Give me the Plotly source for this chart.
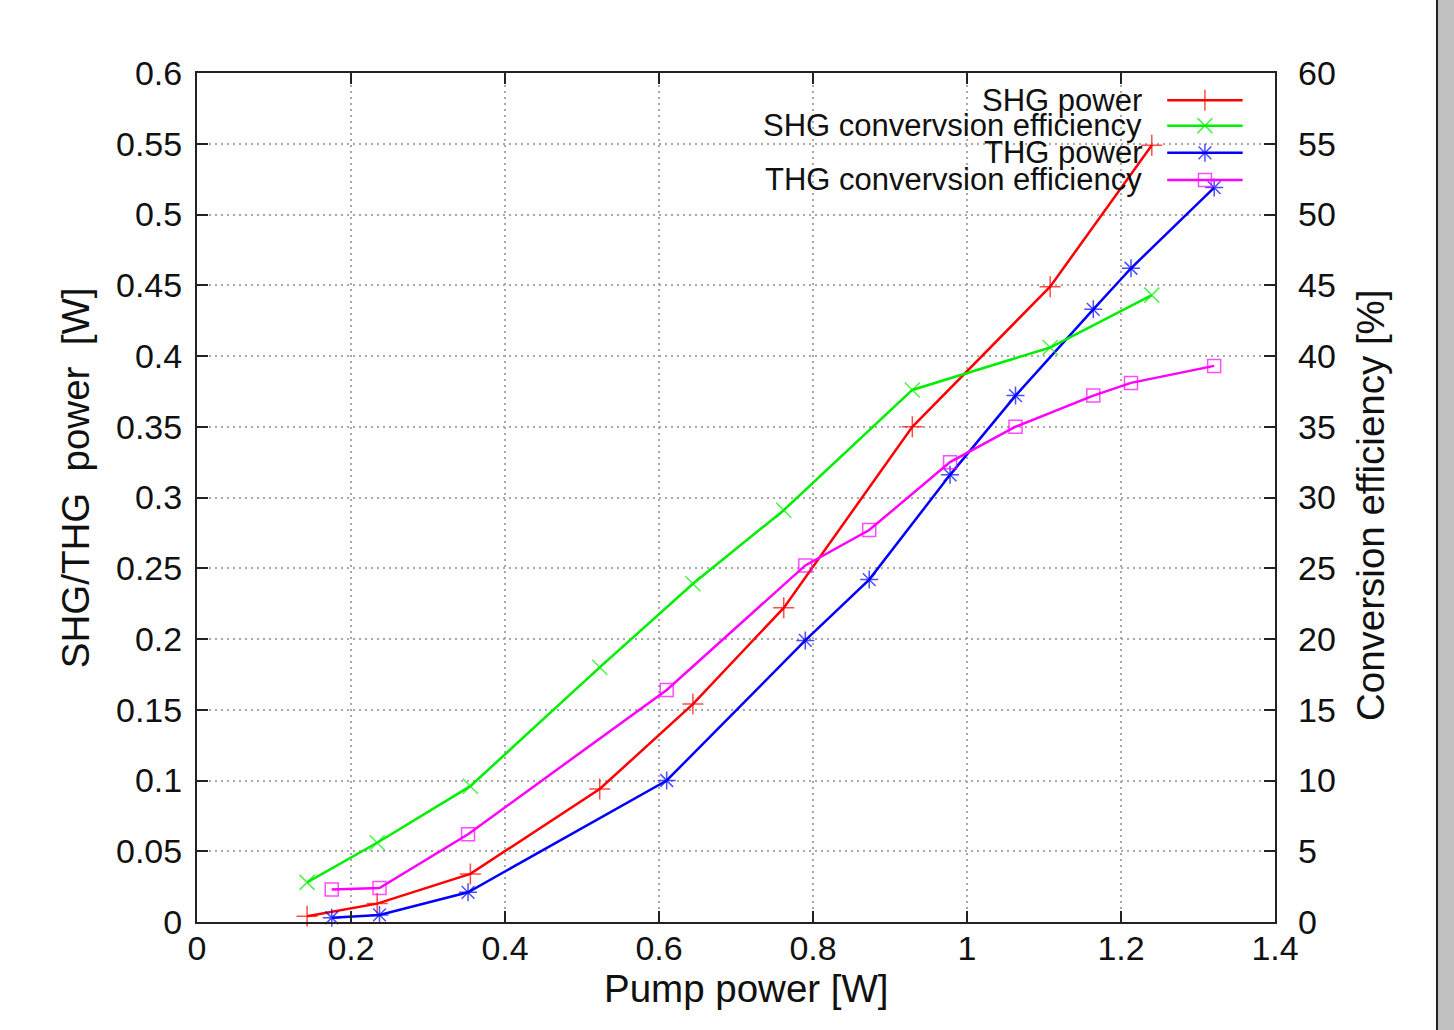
import plotly.graph_objects as go

# ---- data ----
shg_x = [0.143, 0.234, 0.355, 0.523, 0.644, 0.762, 0.929, 1.108, 1.240]
shg_power = [0.004, 0.013, 0.034, 0.094, 0.154, 0.222, 0.350, 0.449, 0.549]
shg_eff = [2.8, 5.6, 9.6, 18.0, 23.9, 29.1, 37.6, 40.6, 44.3]

thg_x = [0.175, 0.237, 0.352, 0.610, 0.790, 0.873, 0.978, 1.063, 1.164, 1.213, 1.321]
thg_power = [0.003, 0.005, 0.021, 0.100, 0.199, 0.242, 0.316, 0.372, 0.433, 0.462, 0.519]
thg_eff = [2.3, 2.4, 6.2, 16.4, 25.2, 27.7, 32.5, 35.0, 37.2, 38.1, 39.3]

names = ["SHG power", "SHG convervsion efficiency", "THG power", "THG convervsion efficiency"]
colors = ["#ff0000", "#00ee00", "#0000ff", "#ff00ff"]
symbols = ["cross-thin", "x-thin", "asterisk-open", "square-open"]

x_ticks = [0, 0.2, 0.4, 0.6, 0.8, 1.0, 1.2, 1.4]
x_ticktext = ["0", "0.2", "0.4", "0.6", "0.8", "1", "1.2", "1.4"]
y_ticks = [0, 0.05, 0.1, 0.15, 0.2, 0.25, 0.3, 0.35, 0.4, 0.45, 0.5, 0.55, 0.6]
y_ticktext = ["0", "0.05", "0.1", "0.15", "0.2", "0.25", "0.3", "0.35", "0.4", "0.45", "0.5", "0.55", "0.6"]
y2_ticks = [0, 5, 10, 15, 20, 25, 30, 35, 40, 45, 50, 55, 60]

FONT = "Liberation Sans, Arial, sans-serif"
AX = "#222222"

fig = go.Figure()

series = [
    (shg_x, shg_power, "y"),
    (shg_x, shg_eff, "y2"),
    (thg_x, thg_power, "y"),
    (thg_x, thg_eff, "y2"),
]
for (xs, ys, ax), name, c, s in zip(series, names, colors, symbols):
    msize = 13 if s == "square-open" else 15
    fig.add_trace(go.Scatter(
        x=xs, y=ys, yaxis=ax, mode="lines+markers", name=name,
        line=dict(color=c, width=2.5),
        marker=dict(symbol=s, size=msize, color=c, line=dict(color=c, width=1.5), opacity=0.7),
        showlegend=False, cliponaxis=False,
    ))

# ---- custom gnuplot-style legend (text right, sample on the right) ----
leg_rows = [0.968, 0.938, 0.906, 0.874]
for name, c, s, yy in zip(names, colors, symbols, leg_rows):
    msize = 13 if s == "square-open" else 15
    fig.add_trace(go.Scatter(
        x=[0.900, 0.970], y=[yy, yy], xaxis="x3", yaxis="y3", mode="lines",
        line=dict(color=c, width=2.5), showlegend=False, hoverinfo="skip"))
    fig.add_trace(go.Scatter(
        x=[0.935], y=[yy], xaxis="x3", yaxis="y3", mode="markers",
        marker=dict(symbol=s, size=msize, color=c, line=dict(color=c, width=1.5), opacity=0.7),
        showlegend=False, hoverinfo="skip"))
    fig.add_annotation(x=0.8776, y=yy, xref="paper", yref="paper", text=name,
                       showarrow=False, xanchor="right", yanchor="middle", borderpad=0,
                       font=dict(family=FONT, size=31, color="#111"))

# axis titles
fig.add_annotation(x=0.510, y=-0.078, xref="paper", yref="paper", text="Pump power [W]",
                   showarrow=False, xanchor="center", yanchor="middle",
                   font=dict(family=FONT, size=38.5, color="#111"))
fig.add_annotation(x=-0.112, y=0.523, xref="paper", yref="paper", text="SHG/THG&nbsp;&nbsp;power&nbsp;&nbsp;[W]",
                   showarrow=False, textangle=-90, xanchor="center", yanchor="middle",
                   font=dict(family=FONT, size=38.5, color="#111"))
fig.add_annotation(x=1.088, y=0.491, xref="paper", yref="paper", text="Conversion efficiency [%]",
                   showarrow=False, textangle=-90, xanchor="center", yanchor="middle",
                   font=dict(family=FONT, size=38.5, color="#111"))

grid = dict(showgrid=True, gridcolor="#a8a8a8", griddash="2px,4px", gridwidth=1.5)

# figure stops at the dark page edge; the gray strip beyond it is the page background
fig.update_layout(
    width=1438, height=1030,
    margin=dict(l=197, r=163, t=73, b=108),
    paper_bgcolor="white", plot_bgcolor="white",
    font=dict(family=FONT, size=34, color="#111"),
    xaxis=dict(range=[0, 1.4], tickvals=x_ticks, ticktext=x_ticktext,
               ticks="inside", ticklen=11, tickwidth=2, tickcolor=AX,
               showline=True, linecolor=AX, linewidth=2, mirror="ticks",
               zeroline=False, ticklabelstandoff=-5, **grid),
    yaxis=dict(range=[0, 0.6], tickvals=y_ticks, ticktext=y_ticktext,
               ticks="inside", ticklen=11, tickwidth=2, tickcolor=AX,
               showline=True, linecolor=AX, linewidth=2, mirror=True,
               zeroline=False, ticklabelstandoff=6, **grid),
    yaxis2=dict(range=[0, 60], tickvals=y2_ticks, overlaying="y", side="right",
                ticks="inside", ticklen=11, tickwidth=2, tickcolor=AX,
                showline=False, showgrid=False, zeroline=False, ticklabelstandoff=22),
    xaxis3=dict(range=[0, 1], overlaying="x", visible=False, fixedrange=True),
    yaxis3=dict(range=[0, 1], overlaying="y", visible=False, fixedrange=True),
    shapes=[
        # opaque key box (above grid, below traces)
        dict(type="rect", xref="paper", yref="paper", x0=0.528, x1=0.978, y0=0.857, y1=0.990,
             fillcolor="white", line=dict(width=0), layer="between"),
        # dark page edge
        dict(type="line", xref="paper", yref="paper", x0=1.1512, x1=1.1512, y0=-0.2, y1=1.2,
             line=dict(color="#222", width=4), layer="above"),
    ],
)

fig.write_html(
    "out.html",
    config={"displayModeBar": False},
    post_script=("document.body.style.margin='0';document.body.style.overflow='hidden';"
                 "document.body.style.background='#c0c0c0';"
                 "document.documentElement.style.background='#c0c0c0';"),
)
